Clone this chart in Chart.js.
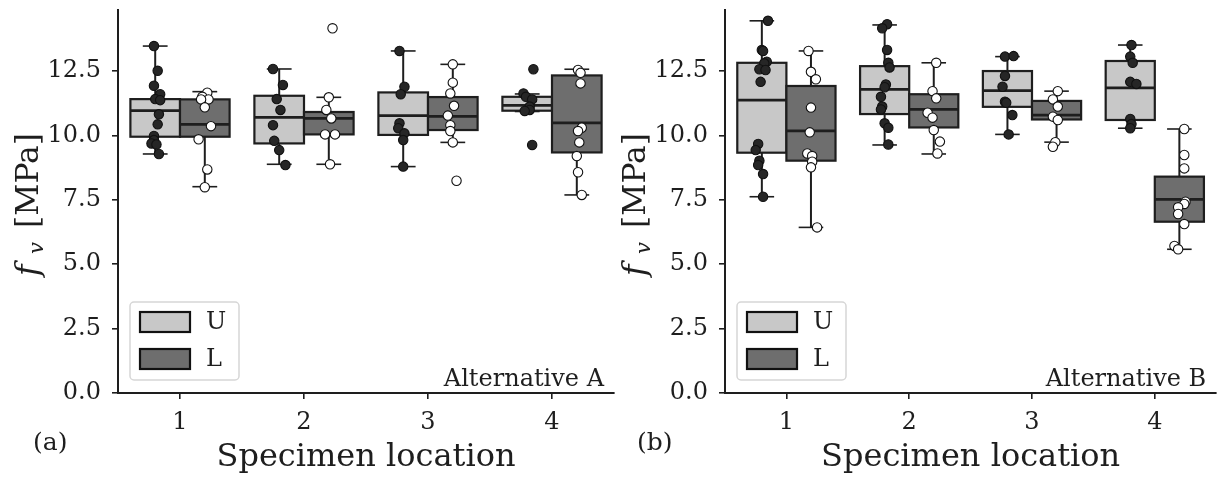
<!DOCTYPE html>
<html>
<head>
<meta charset="utf-8">
<script src="https://cdn.jsdelivr.net/npm/chart.js@4.4.1/dist/chart.umd.min.js"></script>
<style>
  html, body { margin: 0; padding: 0; background: #fff; }
  #wrap { position: relative; width: 1222px; height: 479px; }
  .panel { position: absolute; top: 0; }
  #panelA { left: 0; }
  #panelB { left: 612px; }
</style>
</head>
<body>
<div id="wrap">
  <div class="panel" id="panelA"><canvas id="chartA" width="620" height="479"></canvas></div>
  <div class="panel" id="panelB"><canvas id="chartB" width="610" height="479"></canvas></div>
</div>
<script>
const locations = ['1', '2', '3', '4'];
const groups = ['U', 'L'];
const yTicks = [0, 2.5, 5, 7.5, 10, 12.5];

// box stats per location: [lower whisker, Q1, median, Q3, upper whisker]
const boxA_U = [[9.28, 9.95, 10.96, 11.41, 13.47], [8.88, 9.69, 10.70, 11.54, 12.58], [8.79, 10.02, 10.77, 11.67, 13.28], [10.93, 10.96, 11.17, 11.50, 11.61]];
const boxA_L = [[8.01, 9.95, 10.43, 11.40, 11.70], [8.88, 10.04, 10.66, 10.91, 11.48], [9.73, 10.21, 10.74, 11.49, 12.76], [7.69, 9.34, 10.49, 12.33, 12.57]];
const boxB_U = [[7.62, 9.33, 11.37, 12.82, 14.45], [9.63, 10.83, 11.79, 12.69, 14.29], [10.04, 11.11, 11.74, 12.50, 13.06], [10.28, 10.60, 11.85, 12.89, 13.51]];
const boxB_L = [[6.43, 9.02, 10.18, 11.92, 13.28], [9.28, 10.31, 11.01, 11.60, 12.82], [9.74, 10.62, 10.79, 11.34, 11.72], [5.58, 6.65, 7.52, 8.40, 10.25]];

// individual specimens (MPa) and their strip jitter (location units)
const ptsA_U = [
  [13.47, 12.51, 11.93, 11.60, 11.41, 11.37, 10.82, 10.43, 9.98, 9.82, 9.69, 9.65, 9.28],
  [12.58, 11.96, 11.41, 10.99, 10.40, 9.79, 9.43, 8.85],
  [13.28, 11.89, 11.60, 10.47, 10.28, 10.08, 9.82, 8.79],
  [12.57, 11.63, 11.50, 11.40, 11.12, 10.99, 10.95, 9.63]
];
const jitA_U = [
  [-0.01, 0.02, -0.01, 0.04, 0, 0.04, 0.03, 0.02, -0.01, -0.01, -0.03, 0.01, 0.03],
  [-0.05, 0.03, -0.02, 0.01, -0.05, -0.04, 0, 0.05],
  [-0.03, 0.01, -0.02, -0.03, -0.04, 0.01, 0, 0],
  [0.05, -0.03, -0.01, 0.04, 0.02, 0.02, -0.02, 0.04]
];
const ptsA_L = [
  [11.66, 11.50, 11.40, 11.40, 11.09, 10.36, 9.85, 8.68, 7.99],
  [14.16, 11.48, 10.99, 10.66, 10.04, 10.04, 8.88],
  [12.76, 12.05, 11.63, 11.15, 10.77, 10.40, 10.17, 9.73, 8.24],
  [12.54, 12.43, 12.02, 10.30, 10.17, 9.73, 9.20, 8.57, 7.69]
];
const jitA_L = [
  [0.02, -0.02, 0.03, -0.03, 0, 0.05, -0.05, 0.02, 0],
  [0.03, 0, -0.02, 0.02, -0.03, 0.05, 0.01],
  [0, 0, -0.02, 0.01, -0.04, -0.02, -0.02, 0, 0.03],
  [0.01, 0.03, 0.03, 0.04, 0.01, 0.02, 0, 0.01, 0.04]
];
const ptsB_U = [
  [14.45, 13.32, 13.28, 12.86, 12.80, 12.57, 12.54, 12.08, 9.67, 9.43, 9.02, 8.85, 8.50, 7.62],
  [14.32, 14.16, 13.32, 12.82, 12.64, 11.98, 11.87, 11.50, 11.12, 11.01, 10.47, 10.30, 9.65],
  [13.06, 13.08, 12.31, 11.89, 11.31, 11.27, 10.79, 10.04],
  [13.51, 13.06, 12.82, 12.08, 12.00, 10.64, 10.44, 10.28]
];
const jitB_U = [
  [0.05, 0, 0.01, 0.04, 0.02, -0.02, 0.03, -0.01, -0.03, -0.05, -0.02, -0.03, 0.01, 0.01],
  [0.02, -0.02, 0.02, 0.03, 0.04, 0.01, 0, -0.03, -0.02, -0.03, 0, 0.03, 0.03],
  [-0.02, 0.05, -0.02, -0.04, -0.02, -0.01, 0.04, 0.01],
  [0.01, 0, 0.02, 0, 0.05, 0, 0.01, 0]
];
const ptsB_L = [
  [13.28, 12.47, 12.18, 11.08, 10.12, 9.30, 9.20, 8.98, 8.76, 6.43],
  [12.82, 11.72, 11.44, 10.88, 10.69, 10.21, 9.76, 9.30],
  [11.72, 11.40, 11.12, 10.73, 10.60, 9.74, 9.56],
  [10.25, 9.24, 8.72, 7.43, 7.34, 7.21, 6.95, 6.56, 5.71, 5.58]
];
const jitB_L = [
  [-0.02, 0, 0.04, 0, -0.01, -0.03, 0.01, 0.01, 0, 0.05],
  [0.02, -0.01, 0.02, -0.05, -0.01, 0, 0.05, 0.03],
  [0.01, -0.03, 0.01, -0.03, 0.01, -0.01, -0.03],
  [0.04, 0.04, 0.04, 0.05, 0.04, -0.01, -0.01, 0.04, -0.04, -0.01]
];

const SERIF = '"DejaVu Serif", "Liberation Serif", serif';
const INK = '#1e1e1e';
const boxFill = ['#c8c8c8', '#6e6e6e'];
const dotFill = ['#262626', '#ffffff'];
const hueShift = [-0.2, 0.2];

function stripData(pts, jit, h) {
  const out = [];
  pts.forEach((vals, i) => {
    vals.forEach((v, j) => out.push({ x: i + 1 + hueShift[h] + jit[i][j], y: v }));
  });
  return out;
}

function line(ctx, x1, y1, x2, y2) {
  ctx.beginPath();
  ctx.moveTo(x1, y1);
  ctx.lineTo(x2, y2);
  ctx.stroke();
}

function makeChart(id, cfg) {
  // boxes go under the strip points
  const boxPlugin = {
    id: 'boxes',
    beforeDatasetsDraw(chart) {
      const { ctx, scales: { x, y } } = chart;
      ctx.save();
      ctx.strokeStyle = INK;
      cfg.boxes.forEach((rows, h) => {
        rows.forEach((s, i) => {
          const xc = i + 1 + hueShift[h];
          const xl = x.getPixelForValue(xc - 0.2), xr = x.getPixelForValue(xc + 0.2);
          const xm = x.getPixelForValue(xc);
          const cl = x.getPixelForValue(xc - 0.1), cr = x.getPixelForValue(xc + 0.1);
          const [lo, q1, med, q3, hi] = s.map(v => y.getPixelForValue(v));
          ctx.lineWidth = 2;
          line(ctx, xm, q1, xm, lo);
          line(ctx, xm, q3, xm, hi);
          ctx.lineWidth = 1.6;
          line(ctx, cl, lo, cr, lo);
          line(ctx, cl, hi, cr, hi);
          ctx.lineWidth = 2.2;
          ctx.fillStyle = boxFill[h];
          ctx.fillRect(xl, q3, xr - xl, q1 - q3);
          ctx.strokeRect(xl, q3, xr - xl, q1 - q3);
          ctx.lineWidth = 2.8;
          line(ctx, xl, med, xr, med);
        });
      });
      ctx.restore();
    },
    afterDraw(chart) {
      const { ctx, chartArea: ca } = chart;
      ctx.save();
      // legend
      const lx = ca.left + 12, ly = 302;
      ctx.fillStyle = 'rgba(255,255,255,0.8)';
      ctx.strokeStyle = '#d6d6d6';
      ctx.lineWidth = 1.5;
      ctx.beginPath();
      ctx.roundRect(lx, ly, 109, 78, 4);
      ctx.fill();
      ctx.stroke();
      groups.forEach((g, h) => {
        const py = ly + 10 + h * 37;
        ctx.fillStyle = boxFill[h];
        ctx.fillRect(lx + 10, py, 50, 20);
        ctx.strokeStyle = '#111';
        ctx.lineWidth = 2.2;
        ctx.strokeRect(lx + 10, py, 50, 20);
        ctx.fillStyle = INK;
        ctx.font = '24px ' + SERIF;
        ctx.textBaseline = 'middle';
        ctx.textAlign = 'left';
        ctx.fillText(g, lx + 76, py + 11);
      });
      // panel annotation
      ctx.font = '24px ' + SERIF;
      ctx.textAlign = 'right';
      ctx.textBaseline = 'alphabetic';
      ctx.fillStyle = INK;
      ctx.fillText(cfg.note, ca.right - 10, 386);
      // panel tag
      ctx.textAlign = 'left';
      ctx.font = '25px ' + SERIF;
      ctx.fillText(cfg.tag, cfg.tagX, 450);
      // y label: f_v [MPa], read bottom to top
      ctx.translate(cfg.yLabelX, 190);
      ctx.rotate(-Math.PI / 2);
      ctx.font = '100px ' + SERIF;
      const unitSize = 100 * 95 / ctx.measureText('[MPa]').width;
      ctx.font = unitSize.toFixed(1) + 'px ' + SERIF;
      ctx.fillText('[MPa]', -38, 0);
      ctx.font = 'italic 31px ' + SERIF;
      ctx.fillText('f', -86, 0);
      ctx.font = 'italic 21px ' + SERIF;
      ctx.fillText('v', -64, 5);
      ctx.restore();
    }
  };

  return new Chart(document.getElementById(id), {
    type: 'scatter',
    data: {
      datasets: groups.map((g, h) => ({
        label: g,
        data: stripData(cfg.pts[h], cfg.jit[h], h),
        backgroundColor: dotFill[h],
        borderColor: '#111',
        borderWidth: 1.1,
        pointRadius: 4.7
      }))
    },
    options: {
      responsive: false,
      devicePixelRatio: 1,
      animation: false,
      events: [],
      layout: { padding: { top: 10, right: cfg.padRight, bottom: 0, left: 0 } },
      plugins: { legend: { display: false }, tooltip: { enabled: false } },
      scales: {
        x: {
          type: 'linear',
          min: 0.5,
          max: 4.5,
          afterBuildTicks: s => { s.ticks = locations.map((l, i) => ({ value: i + 1 })); },
          afterFit: s => { s.height = 86; s.paddingLeft = 0; s.paddingRight = 0; },
          ticks: {
            callback: v => locations[v - 1],
            font: { family: SERIF, size: 24 },
            color: INK,
            padding: 9
          },
          grid: { display: true, drawOnChartArea: false, drawTicks: true, tickLength: 6, color: INK, lineWidth: 1.6 },
          border: { display: true, color: INK, width: 2 },
          title: {
            display: true,
            text: 'Specimen location',
            font: { family: SERIF, size: 32 },
            color: INK,
            padding: { top: 0, bottom: 2 }
          }
        },
        y: {
          type: 'linear',
          min: 0,
          max: 14.87,
          afterBuildTicks: s => { s.ticks = yTicks.map(v => ({ value: v })); },
          afterFit: s => { s.width = cfg.yWidth; s.paddingTop = 0; s.paddingBottom = 0; },
          ticks: {
            callback: v => v.toFixed(1),
            font: { family: SERIF, size: 24 },
            color: INK,
            padding: 11
          },
          grid: { display: true, drawOnChartArea: false, drawTicks: true, tickLength: 6, color: INK, lineWidth: 1.6 },
          border: { display: true, color: INK, width: 2 }
        }
      }
    },
    plugins: [boxPlugin]
  });
}

makeChart('chartA', {
  boxes: [boxA_U, boxA_L], pts: [ptsA_U, ptsA_L], jit: [jitA_U, jitA_L],
  note: 'Alternative A', tag: '(a)', tagX: 33, yLabelX: 38, yWidth: 118, padRight: 6
});
makeChart('chartB', {
  boxes: [boxB_U, boxB_L], pts: [ptsB_U, ptsB_L], jit: [jitB_U, jitB_L],
  note: 'Alternative B', tag: '(b)', tagX: 25, yLabelX: 33, yWidth: 113, padRight: 0
});
</script>
</body>
</html>
